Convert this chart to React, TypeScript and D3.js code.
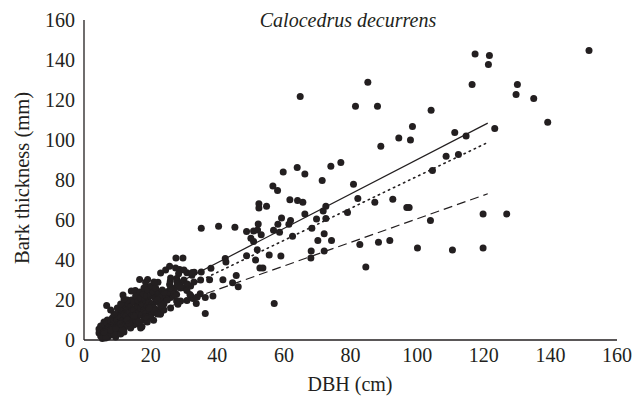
import React from "react";
import * as d3 from "d3";

const TITLE = "Calocedrus decurrens";
const X_LABEL = "DBH (cm)";
const Y_LABEL = "Bark thickness (mm)";
const X_TICKS = [0, 20, 40, 60, 80, 100, 120, 140, 160];
const Y_TICKS = [0, 20, 40, 60, 80, 100, 120, 140, 160];

// Observed points: DBH (cm)
const dbh = [
  151.6, 117.4, 121.7, 121.4, 116.5, 130.1, 129.7, 135, 85.2, 64.9, 81.5, 88.1, 104.2, 139.2, 98.6, 123.3,
  111.3, 114.7, 94.5, 98, 89.1, 108.7, 112.4, 77.1, 74.1, 64, 59.8, 104.6, 66.3, 71.5, 80.9, 56.7, 58.1,
  82.2, 92.7, 61.8, 64.1, 65.7, 87.3, 52.5, 54.8, 52.5, 72.6, 96.9, 97.6, 71.8, 79.1, 66.3, 119.8, 126.9,
  59.3, 69.8, 72.6, 58.2, 62, 61.5, 52.3, 104, 68.4, 56.9, 58.7, 35.2, 40.4, 45.3, 48.8, 50.9, 52.1, 53.2,
  50.1, 50.9, 62.6, 72.1, 70.2, 74.3, 91.8, 88.4, 82.8, 52, 68.2, 72.1, 100.1, 110.6, 119.8, 48.8, 55.6,
  59.1, 51.5, 42.4, 42.6, 68.1, 84.6, 38.1, 35.2, 52.8, 53.7, 45.7, 41.7, 37.7, 44.6, 46.3, 27.6, 29.7,
  25.7, 28.7, 28.4, 30.9, 32.4, 33.1, 27.8, 28, 29, 34.9, 36.4, 38.7, 32.1, 32.7, 33.7, 36.4, 57.1, 30.9,
  27.8, 27.8, 26, 24.1, 22.2, 19.1, 16.7, 18.5, 20.9, 21.6, 20.6, 19.1, 25.7, 23.2, 23, 20.9, 21.4, 17.3,
  6.8, 11.7, 14.2, 15.4,
  24.2, 25.3, 27.2, 30, 31.8, 34, 23.2, 24.7, 26.6, 29, 30.9, 28.2, 25.9, 22.9, 20.8, 18.5,
  4.5, 5, 5.2, 5.5, 5.8, 6, 6.2, 6.5, 6.8, 7, 7.2, 7.5, 7.8, 8, 8, 8.3, 8.5, 8.7, 9, 9.2, 9.5, 9.5, 9.8,
  10, 10, 10.3, 10.5, 10.8, 11, 11, 11.3, 11.5, 11.8, 12, 12, 12.2, 12.5, 12.7, 13, 13, 13.3, 13.5, 13.8,
  14, 14, 14.3, 14.5, 14.8, 15, 15, 15.3, 15.5, 15.7, 16, 16, 16.3, 16.5, 16.8, 17, 17, 17.3, 17.5, 17.8,
  18, 18, 18.3, 18.5, 18.8, 19, 19.2, 19.5, 19.8, 20, 20.2, 20.5, 20.8, 21, 21.3, 21.5, 22, 22.3, 22.5,
  23, 23.5, 24, 24.5, 25, 25.5, 12, 14, 16, 18, 17, 20, 6, 7, 8.5, 9, 10.5, 11.5, 13.5, 15.5, 5.5, 6.5,
  20, 22, 24, 19, 26, 21, 23, 17.4, 23, 24.5, 27.5, 30, 32.5, 26, 28, 30, 32, 21, 13, 10, 9, 8, 11, 12,
  7, 6, 5, 4.5, 6, 8, 9.5, 11, 13, 15, 16.5, 18.5, 19.5, 22, 24, 26, 27, 29, 31, 33, 35,
];

// Observed points: bark thickness (mm)
const bark = [
  144.8, 143, 142.3, 137.7, 127.8, 127.8, 122.8, 120.8, 128.9, 121.7, 116.9, 116.9, 114.9, 108.9, 106.8, 105.8,
  103.8, 102, 101, 100, 96.9, 91.9, 92.7, 88.8, 86.9, 86.3, 84, 84.8, 83, 79.8, 77.9, 77, 74.7,
  70.7, 70.4, 70.1, 69.8, 68.9, 68.9, 68.1, 66.9, 66, 66.9, 66.3, 66.3, 64.5, 63.8, 63, 63, 63,
  61, 60.5, 60.8, 57.9, 59.8, 57.9, 58, 59.8, 55.9, 54.9, 53.9, 55.9, 56.9, 56.4, 54.2, 54.5, 55, 52.6,
  50.9, 49.3, 51.9, 53.1, 49.8, 49.8, 49.8, 48.9, 47.8, 45.1, 44.5, 44.5, 46, 45, 46, 42.1, 42.5,
  42, 40, 40.8, 39, 41, 36.5, 35.9, 34, 36, 36, 32.2, 30.1, 30.1, 28.6, 26.6, 41, 41,
  36.9, 35.2, 33.1, 33.6, 32.4, 33.9, 30.7, 29.4, 28.6, 23.1, 21.2, 22, 22, 20.7, 18.2, 13.2, 18.2, 24.8,
  22.8, 19.5, 21.2, 22.8, 28.9, 30.2, 30.2, 28.9, 25.8, 24.5, 22.8, 26.2, 27.8, 18.7, 13.4, 9.9, 13.7, 6.6,
  17.2, 22.5, 24.5, 24.8,
  22.8, 24.1, 25.8, 26.1, 22.8, 21.5, 17.5, 20.3, 22, 19.5, 19.8, 17.9, 29.4, 12.9, 15.4, 16.2,
  3.5, 2, 5, 1.5, 4, 6.5, 2.5, 8, 3.5, 5.5, 1.5, 7, 4, 9.5, 2.5, 6, 11, 3.5, 8, 5, 12, 1.5, 7,
  10, 4, 13, 6, 9, 11.5, 3, 15, 7.5, 10, 13, 5.5, 17.5, 9, 12, 15, 7, 18, 11, 14,
  9, 16.5, 20, 12.5, 7.5, 15, 19, 10, 22, 13, 17, 11, 19.5, 14, 24, 16, 21, 12.5, 18, 23,
  15, 26, 20, 13, 22, 17, 25, 19, 14, 22, 27, 18, 24, 16, 21, 26, 19, 23, 15,
  21, 25, 18, 22, 20, 24, 4, 6, 8, 10, 6, 12, 3, 2.5, 5, 3, 7, 5, 8.5, 10, 0.8, 1,
  11, 13, 15, 9, 16, 14.5, 17, 6.7, 33.5, 35, 36, 35, 33.7, 31, 28, 30, 27, 29, 20, 16, 13, 15, 18, 20.5,
  10, 9, 7, 5.5, 4, 5, 6, 8, 10, 12, 9, 11.5, 16, 20, 24, 26, 23, 26, 28, 29, 30,
];

// Fitted lines: intercept, slope, x range
const fitNames = ["solid", "dotted", "dashed"];
const fitIntercepts = [4.2, 1.8, 1.6];
const fitSlopes = [0.86, 0.8, 0.59];
const fitXStart = [5, 5, 5];
const fitXEnd = [121.2, 120.6, 121.2];

const W = 640;
const H = 404;
const FONT = "'Liberation Serif', 'Times New Roman', serif";
const INK = "#231f20";

export default function App() {
  const x = d3.scaleLinear().domain([0, 160]).range([84, 617]);
  const y = d3.scaleLinear().domain([0, 160]).range([340, 20]);
  const line = d3
    .line<[number, number]>()
    .x((d) => x(d[0]))
    .y((d) => y(d[1]));
  const dashes: Record<string, string | undefined> = {
    solid: undefined,
    dotted: "1.4 4.2",
    dashed: "9 5",
  };
  const pts = dbh.map((v, i) => [v, bark[i]] as [number, number]);

  return (
    <svg
      width={W}
      height={H}
      style={{ position: "absolute", left: 0, top: 0, background: "#fff" }}
      fontFamily={FONT}
    >
      <rect width={W} height={H} fill="#fff" />
      {pts.map((p, i) => (
        <circle key={i} cx={x(p[0])} cy={y(p[1])} r={3.5} fill={INK} />
      ))}
      {fitNames.map((n, i) => {
        const a = fitIntercepts[i];
        const b = fitSlopes[i];
        const d = line([
          [fitXStart[i], a + b * fitXStart[i]],
          [fitXEnd[i], a + b * fitXEnd[i]],
        ]);
        return (
          <path
            key={n}
            d={d || ""}
            fill="none"
            stroke={INK}
            strokeWidth={n === "dotted" ? 1.6 : 1.2}
            strokeDasharray={dashes[n]}
            strokeLinecap={n === "dotted" ? "round" : "butt"}
          />
        );
      })}
      <line x1={x(0)} x2={x(0)} y1={y(160)} y2={y(0)} stroke={INK} strokeWidth={1.3} />
      <line x1={x(0)} x2={x(160)} y1={y(0)} y2={y(0)} stroke={INK} strokeWidth={1.3} />
      {X_TICKS.map((t) => (
        <text key={"x" + t} x={x(t)} y={y(0) + 22} textAnchor="middle" fontSize={20} fill={INK}>
          {t}
        </text>
      ))}
      {Y_TICKS.map((t) => (
        <text key={"y" + t} x={x(0) - 9} y={y(t) + 6.5} textAnchor="end" fontSize={20} fill={INK}>
          {t}
        </text>
      ))}
      <text x={348} y={27} textAnchor="middle" fontSize={20} fontStyle="italic" fill={INK}>
        {TITLE}
      </text>
      <text x={350} y={391} textAnchor="middle" fontSize={20} fill={INK}>
        {X_LABEL}
      </text>
      <text
        transform={`translate(29, ${(y(0) + y(160)) / 2 - 2}) rotate(-90)`}
        textAnchor="middle"
        fontSize={20.5}
        fill={INK}
      >
        {Y_LABEL}
      </text>
    </svg>
  );
}
